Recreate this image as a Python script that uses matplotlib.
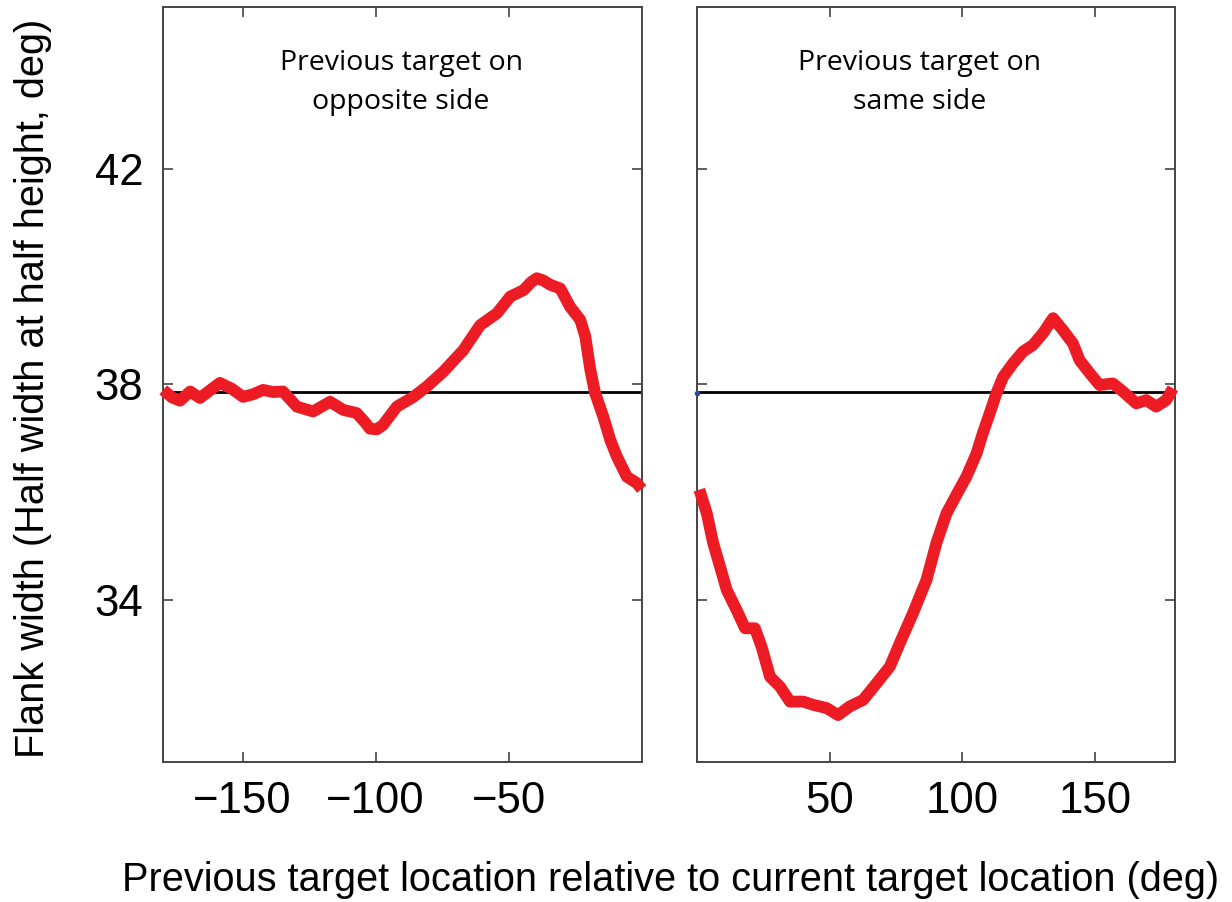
import matplotlib
matplotlib.use("Agg")
import matplotlib.pyplot as plt

# ---- data ----
opp_x = [-179.8, -176.5, -173.5, -169.7, -166.0, -162.0, -158.5, -154.0, -149.8,
         -146.0, -142.3, -138.5, -134.8, -129.6, -123.5, -117.1, -112.2, -107.1,
         -104.0, -102.1, -99.5, -97.2, -92.0, -85.8, -80.8, -74.5, -67.0, -60.7,
         -54.4, -49.4, -44.4, -41.5, -39.4, -37.0, -34.4, -30.6, -26.9, -23.1,
         -21.2, -19.3, -17.5, -14.4, -11.8, -9.3, -5.6, -1.8, 0.0]
opp_y = [37.90, 37.76, 37.70, 37.87, 37.75, 37.90, 38.03, 37.92, 37.77,
         37.82, 37.90, 37.86, 37.87, 37.59, 37.50, 37.68, 37.53, 37.47,
         37.30, 37.18, 37.17, 37.25, 37.59, 37.77, 37.96, 38.24, 38.64, 39.10,
         39.32, 39.63, 39.75, 39.90, 39.97, 39.93, 39.85, 39.78, 39.44, 39.20,
         38.89, 38.27, 37.84, 37.40, 36.97, 36.66, 36.29, 36.17, 36.06]

same_x = [1.0, 3.8, 6.2, 8.8, 11.3, 15.0, 18.2, 21.9, 24.4, 27.6, 31.3, 35.1,
          40.1, 43.8, 48.9, 53.2, 57.6, 62.6, 67.7, 72.7, 76.4, 81.4, 86.5,
          90.2, 94.0, 97.7, 101.5, 105.3, 107.7, 110.3, 112.8, 115.3, 119.0,
          122.8, 126.5, 130.3, 134.1, 137.8, 141.6, 144.1, 147.9, 151.6, 156.6,
          160.4, 165.4, 169.2, 172.9, 176.7, 179.2]
same_y = [36.05, 35.61, 35.06, 34.62, 34.19, 33.82, 33.48, 33.48, 33.14, 32.58,
          32.40, 32.12, 32.12, 32.06, 32.00, 31.87, 32.03, 32.15, 32.46, 32.77,
          33.20, 33.76, 34.38, 35.06, 35.61, 35.95, 36.29, 36.72, 37.10, 37.47,
          37.84, 38.14, 38.39, 38.61, 38.73, 38.95, 39.23, 39.01, 38.76, 38.45,
          38.21, 37.99, 38.02, 37.87, 37.65, 37.71, 37.59, 37.71, 37.93]

baseline = 37.87
blue_pt = (0.3, 37.84)

yticks = [34, 38, 42]
ylabels = ["34", "38", "42"]
opp_xticks = [-150, -100, -50]
opp_xlabels = ["\u2212150", "\u2212100", "\u221250"]
same_xticks = [50, 100, 150]
same_xlabels = ["50", "100", "150"]

title_opp = "Previous target on\nopposite side"
title_same = "Previous target on\nsame side"
xlabel = "Previous target location relative to current target location (deg)"
ylabel = "Flank width (Half width at half height, deg)"

RED = "#ED1C24"
SPINE = "#444444"

plt.rcParams['font.family'] = ['Liberation Sans', 'DejaVu Sans']

fig = plt.figure(figsize=(12.32, 9.02), dpi=100)
W, H = 1232, 902
ax1 = fig.add_axes([162.7 / W, 1 - 762 / H, (641.7 - 162.7) / W, (762 - 7) / H])
ax2 = fig.add_axes([696.7 / W, 1 - 762 / H, (1175 - 696.7) / W, (762 - 7) / H])

for ax in (ax1, ax2):
    ax.set_ylim(31, 45)
    ax.axhline(baseline, color="black", lw=2.0, zorder=2)
    for s in ax.spines.values():
        s.set_color(SPINE)
        s.set_linewidth(1.4)
    ax.tick_params(direction="in", length=7, width=1.2, color=SPINE,
                   top=True, right=True, labelsize=31.5, pad=14)
    ax.set_yticks(yticks)

ax1.set_xlim(-180, 0)
ax2.set_xlim(0, 180)

ax1.plot(opp_x, opp_y, color=RED, lw=8.5, solid_capstyle="butt",
         solid_joinstyle="round", zorder=3, clip_on=False)
ax2.plot(same_x, same_y, color=RED, lw=8.5, solid_capstyle="butt",
         solid_joinstyle="round", zorder=3, clip_on=False)
ax2.plot([blue_pt[0]], [blue_pt[1]], marker="o", ms=3, color="#2B4BA0",
         zorder=4, clip_on=False)

ax1.set_xticks(opp_xticks)
ax1.set_xticklabels(opp_xlabels)
ax1.set_yticklabels(ylabels)
ax1.tick_params(axis="y", pad=14)
ax2.set_xticks(same_xticks)
ax2.set_xticklabels(same_xlabels)
ax2.set_yticklabels([])

title_font = ['Open Sans', 'DejaVu Sans']
ax1.text(-90.4, 43.6, title_opp, ha="center", va="center", fontsize=20.5,
         family=title_font, linespacing=1.5)
ax2.text(84, 43.6, title_same, ha="center", va="center", fontsize=20.5,
         family=title_font, linespacing=1.5)

fig.text(671 / W, 1 - 880 / H, xlabel, ha="center", va="center", fontsize=28.6)
fig.text(33 / W, 1 - 388 / H, ylabel, ha="center", va="center", fontsize=28.6,
         rotation=90)

fig.savefig("out.png", dpi=100, facecolor="white")
